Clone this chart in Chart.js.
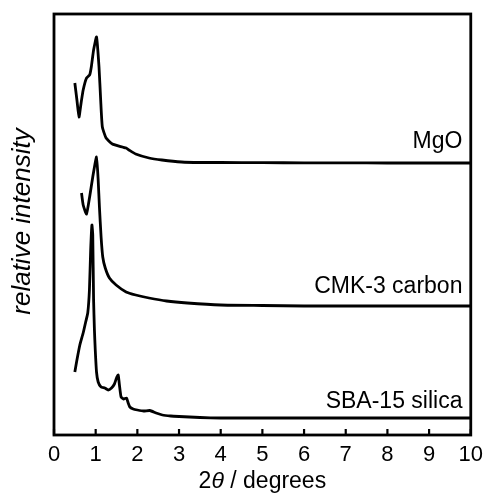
<!DOCTYPE html>
<html>
<head>
<meta charset="utf-8">
<script src="https://cdn.jsdelivr.net/npm/chart.js@4"></script>
<style>
  html, body { margin: 0; padding: 0; background: #fff; }
  canvas { display: block; }
</style>
</head>
<body>
<canvas id="chartXrd" width="490" height="494"></canvas>
<script>
// 2-theta positions and stacked (offset) intensities
const mgoX = [0.50, 0.55, 0.60, 0.65, 0.70, 0.78, 0.855, 0.895, 0.95, 1.02, 1.08, 1.12, 1.16, 1.25, 1.40, 1.64, 1.73, 1.80, 1.96, 2.28, 2.59, 3.06, 3.5, 4, 5, 6, 7, 8, 9, 10];
const mgoY = [352, 335, 318, 332, 345, 357, 360, 368, 385, 398, 368, 335, 308, 297, 291, 288, 287, 285, 281, 277, 275, 273, 272.5, 272.5, 272.3, 272.2, 272.2, 272, 272, 272];

const cmkX = [0.66, 0.70, 0.78, 0.855, 0.93, 1.02, 1.06, 1.09, 1.13, 1.17, 1.23, 1.33, 1.49, 1.73, 1.96, 2.28, 2.7, 3.2, 4, 5, 6, 7, 8, 9, 10];
const cmkY = [242, 230, 221, 238, 258, 278, 255, 228, 198, 178, 167, 157, 150, 143, 140, 137, 134, 132, 130, 129.5, 129, 129, 129, 129, 129];

const sbaX = [0.50, 0.55, 0.62, 0.70, 0.76, 0.81, 0.85, 0.88, 0.91, 0.93, 0.95, 0.97, 0.99, 1.02, 1.06, 1.13, 1.22, 1.30, 1.38, 1.45, 1.50, 1.54, 1.57, 1.61, 1.67, 1.74, 1.78, 1.82, 1.90, 2.00, 2.15, 2.30, 2.45, 2.60, 2.80, 3.00, 3.50, 4, 5, 6, 7, 8, 9, 10];
const sbaY = [63, 75, 90, 102, 113, 122, 145, 185, 210, 200, 135, 105, 85, 63, 53, 48, 47, 45, 47, 51, 57, 60, 50, 38, 36, 37, 32, 28, 26, 25, 24, 24.5, 22, 20, 19, 18.5, 17.5, 17, 17, 17, 17, 17, 17, 17];

const nombresSerie = ['MgO', 'CMK-3 carbon', 'SBA-15 silica'];
const alturaEtiqueta = [293, 148, 33];
const ticksX = [0, 1, 2, 3, 4, 5, 6, 7, 8, 9, 10];

const fuente = 'Liberation Sans, Arial, sans-serif';
const puntos = (xs, ys) => xs.map((x, i) => ({ x: x, y: ys[i] }));

const serie = (data) => ({
    data: data,
    showLine: true,
    borderColor: '#000',
    borderWidth: 2.8,
    pointRadius: 0,
    tension: 0.15,
    fill: false
});

const marco = {
    id: 'marco',
    afterDraw(chart) {
        const { ctx, chartArea: a, scales: { x, y } } = chart;
        ctx.save();
        ctx.strokeStyle = '#000';
        ctx.lineWidth = 2.8;
        ctx.strokeRect(a.left, a.top, a.right - a.left, a.bottom - a.top);

        // ticks pointing inwards
        ctx.lineWidth = 2.2;
        ticksX.forEach(v => {
            const px = x.getPixelForValue(v);
            ctx.beginPath();
            ctx.moveTo(px, a.bottom);
            ctx.lineTo(px, a.bottom - 6);
            ctx.stroke();
        });

        // series names
        ctx.fillStyle = '#000';
        ctx.font = '23px ' + fuente;
        ctx.textAlign = 'right';
        ctx.textBaseline = 'middle';
        nombresSerie.forEach((n, i) => {
            ctx.fillText(n, x.getPixelForValue(9.8), y.getPixelForValue(alturaEtiqueta[i]));
        });

        // x title: 2θ / degrees
        const cx = (a.left + a.right) / 2;
        const partes = [
            { t: '2', f: '23px ' + fuente },
            { t: 'θ', f: 'italic 23px ' + fuente },
            { t: ' / degrees', f: '23px ' + fuente }
        ];
        let total = 0;
        partes.forEach(p => { ctx.font = p.f; total += ctx.measureText(p.t).width; });
        let px = cx - total / 2;
        ctx.textAlign = 'left';
        ctx.textBaseline = 'alphabetic';
        partes.forEach(p => {
            ctx.font = p.f;
            ctx.fillText(p.t, px, 488);
            px += ctx.measureText(p.t).width;
        });

        // y title
        ctx.translate(23, (a.top + a.bottom) / 2 - 3);
        ctx.rotate(-Math.PI / 2);
        ctx.font = 'italic 26px ' + fuente;
        ctx.textAlign = 'center';
        ctx.textBaseline = 'middle';
        ctx.fillText('relative intensity', 0, 0);
        ctx.restore();
    }
};

new Chart(document.getElementById('chartXrd'), {
    type: 'scatter',
    data: {
        datasets: [
            serie(puntos(mgoX, mgoY)),
            serie(puntos(cmkX, cmkY)),
            serie(puntos(sbaX, sbaY))
        ]
    },
    options: {
        responsive: false,
        animation: false,
        devicePixelRatio: 1,
        layout: { padding: { left: 54, right: 15, top: 14, bottom: 0 } },
        plugins: {
            legend: { display: false },
            tooltip: { enabled: false }
        },
        scales: {
            x: {
                type: 'linear',
                min: 0,
                max: 10,
                afterBuildTicks: s => { s.ticks = ticksX.map(v => ({ value: v })); },
                afterFit: s => { s.height = 59; },
                grid: { display: false, drawTicks: false },
                border: { display: false },
                ticks: {
                    color: '#000',
                    padding: 7,
                    font: { family: fuente, size: 22 }
                }
            },
            y: {
                min: 0,
                max: 421,
                display: false
            }
        }
    },
    plugins: [marco]
});
</script>
</body>
</html>
